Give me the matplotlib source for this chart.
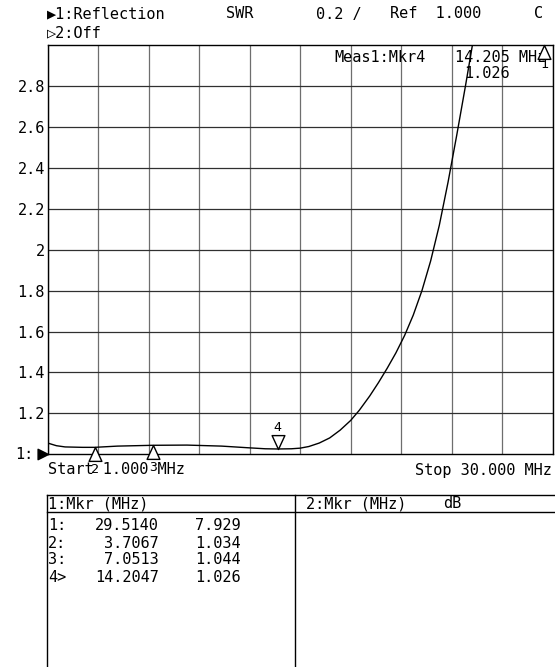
import numpy as np
import matplotlib
matplotlib.use("Agg")
import matplotlib.pyplot as plt
from matplotlib.path import Path
from matplotlib.lines import Line2D

# ================================================
# Data
# ================================================
START = 1.0
STOP = 30.0

freq_mhz = [1.0, 1.5, 2.0, 3.0, 3.7, 5.0, 7.05, 9.0, 11.0, 12.5, 13.5, 14.2,
            15.0, 15.5, 16.0, 16.6, 17.2, 17.8, 18.4, 18.9, 19.5, 20.0, 20.5,
            21.0, 21.5, 22.0, 22.5, 23.0, 23.5, 24.0, 24.5, 25.0, 25.4, 30.0]
swr = [1.055, 1.042, 1.036, 1.034, 1.034, 1.040, 1.044, 1.045, 1.040, 1.032,
       1.027, 1.026, 1.027, 1.030, 1.038, 1.055, 1.080, 1.118, 1.165, 1.215,
       1.285, 1.350, 1.420, 1.495, 1.580, 1.680, 1.800, 1.945, 2.120, 2.330,
       2.560, 2.800, 3.000, 3.000]

mkr_ids = ["1", "2", "3", "4"]
mkr_freq = [29.5140, 3.7067, 7.0513, 14.2047]
mkr_swr = [7.929, 1.034, 1.044, 1.026]
mkr_row_tag = ["1:", "2:", "3:", "4>"]

y_ticks = [1.2, 1.4, 1.6, 1.8, 2.0, 2.2, 2.4, 2.6, 2.8]
y_tick_labels = ["1.2", "1.4", "1.6", "1.8", "2", "2.2", "2.4", "2.6", "2.8"]

# ================================================
# Figure setup (pixel helpers)
# ================================================
W, H = 555, 667
MONO = ["DejaVu Sans Mono", "DejaVu Sans"]
FS = 11


def fx(x):
    return x / W


def fy(y):
    return 1 - y / H


fig = plt.figure(figsize=(W / 100, H / 100), dpi=100)
fig.patch.set_facecolor("white")

left, right, top, bottom = 47.7, 552.5, 45.0, 454.3
ax = fig.add_axes([fx(left), fy(bottom), (right - left) / W, (bottom - top) / H])
ax.set_xlim(START, STOP)
ax.set_ylim(1.0, 3.0)

ax.set_xticks(np.linspace(START, STOP, 11))
ax.set_xticklabels([])
ax.set_yticks(y_ticks)
ax.set_yticklabels(y_tick_labels, family=MONO, fontsize=FS)
ax.tick_params(length=0, pad=2)
ax.xaxis.grid(True, color="#6e6e6e", lw=0.9)
ax.yaxis.grid(True, color="#303030", lw=0.9)
ax.set_axisbelow(True)
for s in ax.spines.values():
    s.set_color("black")
    s.set_linewidth(1.0)

# trace
ax.plot(freq_mhz, swr, color="black", lw=1.0, zorder=3)

# marker readout (inside the axes so marker 1 can cover it)
ax.text(fx(334), fy(58), "Meas1:Mkr4", transform=fig.transFigure,
        ha="left", va="center", family=MONO, fontsize=FS, zorder=4)
ax.text(fx(455), fy(58), f"{mkr_freq[3]:.3f} MHz", transform=fig.transFigure,
        ha="left", va="center", family=MONO, fontsize=FS, zorder=4)
ax.text(fx(464), fy(73), f"{mkr_swr[3]:.3f}", transform=fig.transFigure,
        ha="left", va="center", family=MONO, fontsize=FS, zorder=2)

# markers: triangles with the apex on the trace
up_tri = Path([(0, 0), (-0.46, -1), (0.46, -1), (0, 0)],
              [Path.MOVETO, Path.LINETO, Path.LINETO, Path.CLOSEPOLY])
down_tri = Path([(0, 0), (-0.46, 1), (0.46, 1), (0, 0)],
                [Path.MOVETO, Path.LINETO, Path.LINETO, Path.CLOSEPOLY])
active = 3
for i, (mid, f, v) in enumerate(zip(mkr_ids, mkr_freq, mkr_swr)):
    yv = min(v, 3.0)
    if i == active:
        mk, dy = down_tri, 21
    elif v > 3.0:
        mk, dy = up_tri, -19
    else:
        mk, dy = up_tri, -22
    ax.plot([f], [yv], marker=mk, ms=20, mfc="white", mec="black",
            mew=1.0, clip_on=False, zorder=6)
    ax.annotate(mid, (f, yv), xytext=(0, dy), textcoords="offset pixels",
                ha="center", va="center", family=MONO, fontsize=9.5,
                zorder=7, annotation_clip=False)

# reference marker at 1.0
ref_tri = Path([(0, 0), (-1, 0.5), (-1, -0.5), (0, 0)],
               [Path.MOVETO, Path.LINETO, Path.LINETO, Path.CLOSEPOLY])
ax.plot([START], [1.0], marker=ref_tri, ms=15, color="black", clip_on=False,
        zorder=6)
fig.text(fx(33), fy(bottom), "1:", ha="right", va="center", family=MONO,
         fontsize=FS)

# ================================================
# Header / annotations
# ================================================
fig.text(fx(47), fy(14), "\u25B61:Reflection", ha="left", va="center",
         family=MONO, fontsize=FS)
fig.text(fx(226), fy(14), "SWR", ha="left", va="center", family=MONO,
         fontsize=FS)
fig.text(fx(316), fy(14), "0.2 /", ha="left", va="center", family=MONO,
         fontsize=FS)
fig.text(fx(390), fy(14), "Ref  1.000", ha="left", va="center", family=MONO,
         fontsize=FS)
fig.text(fx(534), fy(14), "C", ha="left", va="center", family=MONO,
         fontsize=FS)
fig.text(fx(47), fy(33), "\u25B72:Off", ha="left", va="center", family=MONO,
         fontsize=FS)

fig.text(fx(47.7), fy(470), f"Start {START:.3f} MHz", ha="left", va="center",
         family=MONO, fontsize=FS)
fig.text(fx(552), fy(470), f"Stop {STOP:.3f} MHz", ha="right", va="center",
         family=MONO, fontsize=FS)

# ================================================
# Marker table
# ================================================
def hline(x0, x1, y):
    fig.add_artist(Line2D([fx(x0), fx(x1)], [fy(y), fy(y)], color="black",
                          lw=1.0))


def vline(x, y0, y1):
    fig.add_artist(Line2D([fx(x), fx(x)], [fy(y0), fy(y1)], color="black",
                          lw=1.0))


hline(46.7, 555, 495)
hline(46.7, 555, 512)
vline(46.7, 495, 667)
vline(295, 495, 667)

fig.text(fx(48), fy(504), "1:Mkr (MHz)", ha="left", va="center", family=MONO,
         fontsize=FS)
fig.text(fx(306), fy(504), "2:Mkr (MHz)", ha="left", va="center",
         family=MONO, fontsize=FS)
fig.text(fx(443), fy(504), "dB", ha="left", va="center", family=MONO,
         fontsize=FS)

for k, (tag, f, v) in enumerate(zip(mkr_row_tag, mkr_freq, mkr_swr)):
    yy = 526 + 17 * k
    fig.text(fx(48), fy(yy), tag, ha="left", va="center", family=MONO,
             fontsize=FS)
    fig.text(fx(159), fy(yy), f"{f:.4f}", ha="right", va="center",
             family=MONO, fontsize=FS)
    fig.text(fx(241), fy(yy), f"{v:.3f}", ha="right", va="center",
             family=MONO, fontsize=FS)

fig.savefig("out.png", dpi=100, facecolor="white")
